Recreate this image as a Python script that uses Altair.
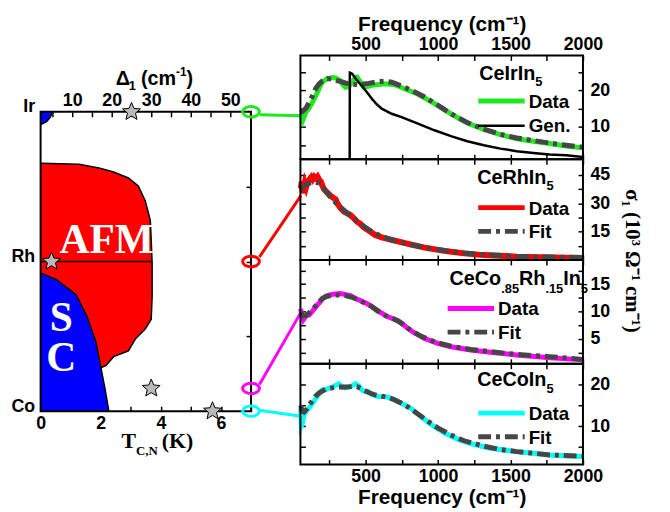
import math
import altair as alt
import pandas as pd

# ---------------- data ----------------
# Left panel: phase diagram; composition axis: Co = 0, Rh = 0.5, Ir = 1
afm_y = [0.828, 0.825, 0.812, 0.799, 0.779, 0.752, 0.703, 0.637, 0.571, 0.495,
         0.383, 0.307, 0.274, 0.241, 0.201, 0.182, 0.152, 0.145]
afm_T = [0.0, 1.28, 1.94, 2.43, 2.92, 3.25, 3.48, 3.65, 3.68, 3.71,
         3.71, 3.68, 3.48, 3.15, 2.92, 2.43, 2.17, 2.0]
sc_y = [0.462, 0.439, 0.389, 0.317, 0.231, 0.149, 0.076, 0.0]
sc_T = [0.0, 0.53, 1.18, 1.54, 1.84, 2.0, 2.14, 2.27]
irsc_y = [1.0, 0.983, 0.967, 0.957]
irsc_T = [0.39, 0.33, 0.2, 0.0]
rh_T_end = 3.71
compounds = ["CeIrIn5", "CeRhIn5", "CeCo.85Rh.15In5", "CeCoIn5"]
comp_y = [1.0, 0.5, 0.076, 0.0]
comp_colors = ["#21e821", "#ff0000", "#ff00ff", "#00ffff"]
star_delta = [25.0, 4.75, 30.0, 45.5]
circle_T = 7.0
link_T = [7.28, 8.66]
link_y_end = [0.987, 0.72, 0.33, -0.017]
link_y_start = [0.99, 0.515, 0.089, 0.003]

# Right panels: sigma_1 (10^3 Ohm^-1 cm^-1) vs frequency (cm^-1)
ir_f = [52, 66, 89, 111, 134, 157, 180, 202, 236, 270, 293, 327, 345, 361, 384, 407, 430, 441,
        464, 486, 520, 543, 634, 702, 793, 861, 975, 1089, 1202, 1316, 1430, 1543, 1657, 1770, 1884, 1998]
ir_v = [13.6, 11.8, 14.1, 15.2, 16.8, 18.6, 20.6, 22.3, 23.2, 23.5, 23.4, 22.6, 21.4, 20.8, 21.0, 22.3, 23.5, 23.6,
        22.3, 20.9, 21.1, 21.4, 21.8, 21.5, 20.0, 19.0, 16.4, 13.6, 11.1, 9.3, 7.9, 6.8, 6.1, 5.5, 4.8, 4.3]
ir_fit_f = [52, 66, 89, 111, 134, 157, 180, 202, 236, 270, 316, 361, 407, 452, 520, 589, 634, 680, 748, 816,
            907, 1000, 1089, 1202, 1316, 1430, 1543, 1657, 1770, 1884, 1998]
ir_fit_v = [13.9, 14.3, 15.2, 16.8, 18.6, 20.6, 21.8, 22.6, 23.2, 23.0, 22.5, 22.0, 21.7, 21.5, 21.9, 22.4, 22.5,
            22.2, 21.2, 20.0, 18.2, 15.9, 13.6, 11.2, 9.4, 8.0, 7.0, 6.3, 5.6, 5.0, 4.5]
gen_f = [390, 391, 407, 441, 475, 509, 543, 577, 611, 680, 748, 861, 975, 1089, 1202, 1316, 1430, 1543,
         1657, 1770, 1884, 1998]
gen_v = [1.2, 24.8, 24.5, 22.7, 21.2, 19.5, 17.7, 16.2, 15.0, 13.6, 12.7, 10.9, 9.1, 7.5, 6.1, 5.0, 4.1, 3.4,
         2.9, 2.5, 2.3, 1.8]

rh_f = [52, 60, 66, 80, 89, 100, 111, 125, 134, 145, 157, 168, 180, 191, 202, 214, 236, 259, 282, 293, 304,
        327, 350, 373, 395, 418, 441, 464, 486, 509, 532, 566, 611, 680, 793, 907, 1043, 1180, 1316, 1543, 1770, 1998]
rh_v = [37.9, 41.5, 35.3, 40.6, 38.5, 41.5, 42.4, 43.8, 42.7, 44.1, 43.2, 44.1, 42.4, 41.5, 39.2, 37.4, 35.6,
        33.9, 32.6, 32.1, 30.0, 27.4, 25.6, 24.7, 23.8, 22.1, 20.3, 19.1, 17.3, 16.2, 15.0, 13.2, 12.0, 10.6,
        8.5, 6.5, 4.8, 3.5, 2.6, 1.8, 1.4, 1.1]
rh_fit_f = [52, 66, 89, 111, 134, 157, 180, 202, 225, 259, 293, 327, 361, 407, 452, 498, 543, 611, 702, 816,
            930, 1043, 1180, 1316, 1543, 1770, 1998]
rh_fit_v = [37.1, 38.5, 39.7, 40.6, 40.9, 41.1, 40.6, 38.5, 36.2, 33.2, 30.4, 27.9, 25.6, 22.6, 19.8, 17.3,
            15.0, 12.4, 10.1, 8.0, 6.4, 5.0, 3.7, 2.8, 2.0, 1.6, 1.4]

mix_f = [52, 60, 70, 89, 111, 134, 157, 180, 202, 225, 259, 293, 327, 361, 395, 430, 475, 520, 566, 611, 657,
         702, 748, 793, 838, 907, 998, 1089, 1225, 1361, 1543, 1770, 1998]
mix_v = [10.5, 9.2, 8.5, 9.2, 9.4, 10.1, 10.9, 11.6, 12.3, 12.8, 13.1, 13.2, 13.3, 13.1, 12.9, 12.4, 11.9,
         11.3, 10.5, 9.7, 9.0, 8.6, 7.9, 6.9, 6.1, 5.1, 4.2, 3.6, 3.0, 2.6, 2.1, 1.6, 1.2]
mix_fit_f = [52, 70, 89, 111, 134, 157, 180, 202, 236, 270, 316, 361, 407, 452, 498, 543, 589, 634, 680, 725,
             770, 816, 884, 975, 1089, 1225, 1361, 1543, 1770, 1998]
mix_fit_v = [9.8, 9.2, 9.3, 9.8, 10.4, 11.1, 11.8, 12.4, 12.8, 13.0, 13.0, 12.9, 12.6, 12.1, 11.5, 10.9,
             10.0, 9.3, 8.8, 8.3, 7.4, 6.5, 5.5, 4.5, 3.7, 3.1, 2.7, 2.2, 1.8, 1.3]

co_f = [52, 56, 62, 75, 89, 111, 134, 157, 180, 202, 225, 248, 270, 293, 316, 338, 361, 384, 407, 430, 452,
        475, 498, 520, 543, 589, 634, 680, 725, 770, 816, 861, 907, 952, 998, 1043, 1134, 1225, 1361, 1543, 1770, 1998]
co_v = [14.3, 10.0, 10.4, 12.8, 13.5, 14.5, 15.5, 16.7, 17.9, 18.7, 18.8, 19.1, 19.4, 19.8, 20.2, 19.4, 19.2,
        19.4, 19.7, 20.2, 19.7, 18.7, 18.3, 18.3, 17.6, 17.1, 17.1, 16.7, 15.9, 15.1, 14.2, 12.9, 11.6, 10.4,
        9.4, 8.4, 6.9, 5.8, 4.7, 3.9, 3.1, 2.7]
co_fit_f = [52, 62, 75, 89, 111, 134, 157, 180, 225, 270, 316, 361, 407, 441, 475, 520, 566, 611, 657, 702,
            748, 793, 861, 930, 998, 1089, 1180, 1316, 1430, 1543, 1770, 1998]
co_fit_v = [15.0, 13.7, 13.4, 13.9, 15.1, 16.3, 17.3, 18.0, 18.9, 19.2, 19.4, 19.4, 19.5, 19.5, 18.9, 18.1,
            17.5, 17.2, 16.9, 16.3, 15.5, 14.6, 12.9, 11.2, 9.6, 7.9, 6.5, 5.2, 4.4, 3.9, 3.1, 2.8]

freq_ticks = [250, 500, 750, 1000, 1250, 1500, 1750, 2000]
freq_domain = [50, 2000]

# ---------------- layout / styles ----------------
W, H = 662, 504                      # whole drawing area (page minus 8px margin)
L_X, L_Y = (33, 246), (405, 102)     # left panel pixel ranges
R_X = (296, 582)                     # right panels pixel range
P_TOP = [45, 150, 252, 357]
P_BOT = [150, 252, 357, 459]

FONT = "Liberation Sans"
SERIF = "Liberation Serif"
FIT_GRAY = "#464646"
DASH = [13, 5, 4, 5]
AW = {'C': .722, 'e': .556, 'I': .278, 'r': .389, 'n': .611, 'R': .722, 'h': .611, 'o': .611, '.': .278,
      ' ': .278, '(': .333, ')': .333, 'c': .556, 'm': .889, '-': .333, 'Δ': .667, 'T': .667, ',': .25,
      'N': .722, 'K': .778}
for d in "0123456789":
    AW[d] = .556

one = pd.DataFrame({'k': [0]})


def seg_text(segments, x0, y0, font=FONT, color='black'):
    """segments: (text, fontSize, dy, gap_before)"""
    layers = []
    x = x0
    for seg in segments:
        s, fs, dy = seg[0], seg[1], seg[2]
        gap = seg[3] if len(seg) > 3 else 0
        x += gap
        layers.append(alt.Chart(one).mark_text(text=s, font=font, fontSize=fs, fontWeight='bold',
                                               align='left', baseline='alphabetic', color=color)
                      .encode(x=alt.value(x), y=alt.value(y0 + dy)))
        x += sum(AW.get(ch, .6) for ch in s) * fs
    return layers


def star_path():
    pts = []
    for k in range(10):
        a = math.radians(-90 + 36 * k)
        r = 1.0 if k % 2 == 0 else 0.45
        pts.append(f"{r * math.cos(a):.3f} {r * math.sin(a):.3f}")
    return "M " + " L ".join(pts) + " Z"


STAR = star_path()
ELLIPSE = "M -1 0 A 1 0.62 0 1 0 1 0 A 1 0.62 0 1 0 -1 0 Z"

# ---------------- left panel ----------------
xT = alt.Scale(domain=[0, 7], range=list(L_X), nice=False, zero=False)
yC = alt.Scale(domain=[0, 1], range=list(L_Y), nice=False, zero=False)
xD = alt.Scale(domain=[2, 55.25], range=list(L_X), nice=False, zero=False)

afm_df = pd.DataFrame({'T': afm_T, 'y': afm_y, 'i': range(len(afm_T))})
sc_df = pd.DataFrame({'T': sc_T, 'y': sc_y, 'i': range(len(sc_T))})
irsc_df = pd.DataFrame({'T': irsc_T, 'y': irsc_y, 'i': range(len(irsc_T))})


def region(df, fill, axes=False):
    if axes:
        y = alt.Y('y:Q', scale=yC, axis=alt.Axis(orient='left', offset=-L_X[0], values=[0, 0.5, 1], ticks=False,
                                                  labelPadding=6, labelOffset=-5, title=None,
                                                  labelExpr="datum.value == 1 ? 'Ir' : (datum.value == 0.5 ? 'Rh' : 'Co')"))
        x = alt.X('T:Q', scale=xT, stack=None,
                  axis=alt.Axis(orient='bottom', offset=(L_Y[0] - 5) - H, values=list(range(8)),
                                format='d', title=None, labelPadding=4,
                                labelExpr="datum.value % 2 == 0 ? datum.label : ''"))
    else:
        y = alt.Y('y:Q', scale=yC, axis=None)
        x = alt.X('T:Q', scale=xT, stack=None, axis=None)
    # the fill reaches back to the left frame of the panel
    area = alt.Chart(df).mark_area(orient='horizontal', fill=fill, opacity=1, strokeWidth=0).encode(
        y=y, x=x, x2=alt.value(L_X[0]))
    edge = alt.Chart(df).mark_line(color='black', strokeWidth=1.5).encode(
        y=alt.Y('y:Q', scale=yC, axis=None), x=alt.X('T:Q', scale=xT, axis=None), order='i:Q')
    return [area, edge]


rh_line = alt.Chart(pd.DataFrame({'T0': [0.0], 'T1': [rh_T_end], 'y': [0.5]})).mark_rule(
    color='black', strokeWidth=1.5).encode(
    x=alt.X('T0:Q', scale=xT, axis=None), x2='T1:Q', y=alt.Y('y:Q', scale=yC, axis=None))

left_frame = alt.Chart(pd.DataFrame({'x0': [0], 'x1': [7], 'y0': [0], 'y1': [1]})).mark_rect(
    fillOpacity=0, stroke='black', strokeWidth=2).encode(
    x=alt.X('x0:Q', scale=xT, axis=None), x2='x1:Q', y=alt.Y('y0:Q', scale=yC, axis=None), y2='y1:Q')

LX0, LY0 = L_X[0], L_Y[1]
phase_text = [
    alt.Chart(one).mark_text(text=t, font=SERIF, fontSize=42, fontWeight='bold', color='white',
                             align='center', baseline='alphabetic').encode(x=alt.value(LX0 + dx), y=alt.value(LY0 + dy))
    for t, dx, dy in [('AFM', 67, 143), ('S', 21, 222), ('C', 21, 262)]
]

link_rows = []
for n, c, y0, y1 in zip(compounds, comp_colors, link_y_start, link_y_end):
    link_rows.append({'name': n, 'c': c, 'T': link_T[0], 'y': y0, 'i': 0})
    link_rows.append({'name': n, 'c': c, 'T': link_T[1], 'y': y1, 'i': 1})
links = alt.Chart(pd.DataFrame(link_rows)).mark_line(strokeWidth=3).encode(
    x=alt.X('T:Q', scale=xT, axis=None), y=alt.Y('y:Q', scale=yC, axis=None),
    color=alt.Color('c:N', scale=None), detail='name:N', order='i:Q')

circ_df = pd.DataFrame({'name': compounds, 'c': comp_colors, 'y': comp_y, 'T': [circle_T] * 4})
circles = alt.Chart(circ_df).mark_point(shape=ELLIPSE, size=289, filled=False, strokeWidth=3, opacity=1).encode(
    x=alt.X('T:Q', scale=xT, axis=None), y=alt.Y('y:Q', scale=yC, axis=None),
    color=alt.Color('c:N', scale=None))

star_df = pd.DataFrame({'name': compounds, 'd': star_delta, 'y': comp_y})
stars = alt.Chart(star_df).mark_point(shape=STAR, size=360, filled=True, fill='#b9b9b9', stroke='black',
                                      strokeWidth=1, opacity=1).encode(
    x=alt.X('d:Q', scale=xD, axis=alt.Axis(orient='top', offset=-(L_Y[1] + 5), values=list(range(5, 60, 5)),
                                            format='d', title=None, labelPadding=2,
                                            labelExpr="datum.value % 10 == 0 ? datum.label : ''")),
    y=alt.Y('y:Q', scale=yC, axis=alt.Axis(orient='right', offset=(L_X[1] - 5) - W, values=[0.25, 0.5, 0.75],
                                            labels=False, title=None)))

delta_title = seg_text([("Δ", 20, 0), ("1", 13, 5), ("(cm", 20, 0, 5), ("-1", 12, -9), (")", 20, 0)],
                       LX0 + 76, LY0 - 27)
t_title = seg_text([("T", 22, 0), ("C,N", 13, 7), ("(K)", 22, 0, 4)], LX0 + 82, LY0 + 340, font=SERIF)

left_layers = [*region(afm_df, '#ff0000', axes=True), *region(sc_df, '#0000ff'), *region(irsc_df, '#0000ff'),
               rh_line, left_frame, *phase_text, links, circles, stars, *delta_title, *t_title]


# ---------------- right panels ----------------
def panel(k, f, v, ff, fv, ydom, yticks, ymod, color, label_segs, lab_x0, lab_base, leg_x, second_label,
          extra=(), dw=5, leg_y=(49, 73), txt_base=(56, 80)):
    top, bot = P_TOP[k], P_BOT[k]
    xs = alt.Scale(domain=freq_domain, range=list(R_X), nice=False, zero=False)
    ys = alt.Scale(domain=ydom, range=[bot, top], nice=False, zero=False)
    title = 'Frequency (cm⁻¹)'
    is_top, is_bottom = k == 0, k == 3
    data_layer = alt.Chart(pd.DataFrame({'f': f, 'v': v})).mark_line(color=color, strokeWidth=dw).encode(
        x=alt.X('f:Q', scale=xs, axis=alt.Axis(orient='bottom', offset=(bot - 5) - H, values=freq_ticks,
                                                labels=is_bottom, format='d',
                                                labelExpr="datum.value % 500 == 0 ? datum.label : ''",
                                                title=title if is_bottom else None, labelPadding=3, titlePadding=1)),
        y=alt.Y('v:Q', scale=ys, axis=alt.Axis(orient='right', offset=(R_X[1] - 5) - W, values=yticks, format='d',
                                                title=None, labelPadding=7,
                                                labelExpr=f"datum.value % {ymod} == 0 ? datum.label : ''")))
    fit_layer = alt.Chart(pd.DataFrame({'f': ff, 'v': fv})).mark_line(
        color=FIT_GRAY, strokeWidth=5, strokeDash=DASH).encode(
        x=alt.X('f:Q', scale=xs, axis=alt.Axis(orient='top', offset=-(top + 5), values=freq_ticks, labels=is_top,
                                                format='d', labelExpr="datum.value % 500 == 0 ? datum.label : ''",
                                                title=title if is_top else None, labelPadding=2, titlePadding=1)),
        y=alt.Y('v:Q', scale=ys, axis=alt.Axis(orient='left', offset=-(R_X[0] + 5), values=yticks, labels=False,
                                                title=None)))
    frame = alt.Chart(pd.DataFrame({'x0': [freq_domain[0]], 'x1': [freq_domain[1]], 'y0': [ydom[0]],
                                    'y1': [ydom[1]]})).mark_rect(fillOpacity=0, stroke='black', strokeWidth=2).encode(
        x=alt.X('x0:Q', scale=xs, axis=None), x2='x1:Q', y=alt.Y('y0:Q', scale=ys, axis=None), y2='y1:Q')
    layers = [data_layer, fit_layer]
    for e in extra:
        layers.append(e(xs, ys))
    layers.append(frame)
    X0 = R_X[0]
    layers.append(alt.Chart(one).mark_rule(color=color, strokeWidth=5).encode(
        x=alt.value(X0 + leg_x), x2=alt.value(X0 + leg_x + 47), y=alt.value(top + leg_y[0])))
    if second_label == 'Gen.':
        layers.append(alt.Chart(one).mark_rule(color='black', strokeWidth=2.5).encode(
            x=alt.value(X0 + leg_x), x2=alt.value(X0 + leg_x + 47), y=alt.value(top + leg_y[1])))
    else:
        layers.append(alt.Chart(one).mark_rule(color=FIT_GRAY, strokeWidth=5, strokeDash=DASH).encode(
            x=alt.value(X0 + leg_x), x2=alt.value(X0 + leg_x + 47), y=alt.value(top + leg_y[1])))
    layers += seg_text([("Data", 19, 0)], X0 + leg_x + 51, top + txt_base[0])
    layers += seg_text([(second_label, 19, 0)], X0 + leg_x + 51, top + txt_base[1])
    layers += seg_text(label_segs, X0 + lab_x0, top + lab_base)
    return layers


def gen_layer(xs, ys):
    return alt.Chart(pd.DataFrame({'f': gen_f, 'v': gen_v})).mark_line(color='black', strokeWidth=2.5).encode(
        x=alt.X('f:Q', scale=xs, axis=None), y=alt.Y('v:Q', scale=ys, axis=None))


p1 = panel(0, ir_f, ir_v, ir_fit_f, ir_fit_v, [1.2, 29.5], [5, 10, 15, 20, 25], 10, comp_colors[0],
           [("CeIrIn", 20, 0), ("5", 13, 6)], 181, 25, 180, 'Gen.', extra=(gen_layer,),
           leg_y=(46, 71), txt_base=(53, 77))
p2 = panel(1, rh_f, rh_v, rh_fit_f, rh_fit_v, [0, 53.3], [7.5, 15, 22.5, 30, 37.5, 45], 15, comp_colors[1],
           [("CeRhIn", 20, 0), ("5", 13, 6)], 179, 25, 180, 'Fit', dw=6)
p3 = panel(2, mix_f, mix_v, mix_fit_f, mix_fit_v, [0.5, 19.4], [2.5, 5, 7.5, 10, 12.5, 15, 17.5], 5,
           comp_colors[2],
           [("CeCo", 20, 0), (".85", 13, 8), ("Rh", 20, 0), (".15", 13, 8), ("In", 20, 0), ("5", 13, 8)],
           151, 25, 149, 'Fit')
p4 = panel(3, co_f, co_v, co_fit_f, co_fit_v, [0.8, 25], [5, 10, 15, 20], 10, comp_colors[3],
           [("CeCoIn", 20, 0), ("5", 13, 7)], 179, 23, 180, 'Fit', leg_y=(50, 74), txt_base=(57, 81))

sigma_title = alt.Chart(one).mark_text(text='σ₁ (10³ Ω⁻¹ cm⁻¹)', font=SERIF, fontSize=21, fontWeight='bold',
                                       angle=90, align='center', baseline='middle', color='black').encode(
    x=alt.value(632), y=alt.value(253))

chart = alt.layer(*left_layers, *p1, *p2, *p3, *p4, sigma_title).resolve_scale(
    x='independent', y='independent').resolve_axis(x='independent', y='independent').properties(
    width=W, height=H, autosize=alt.AutoSizeParams(type='none'), padding=0, background='white'
).configure_view(strokeOpacity=0).configure_axis(
    domain=False, grid=False, ticks=True, tickColor='black', tickWidth=1.5, tickSize=5,
    labelFont=FONT, labelFontWeight='bold', labelFontSize=18, labelColor='black',
    titleFont=FONT, titleFontWeight='bold', titleFontSize=21, titleColor='black',
    labelOverlap=False, labelFlush=False)

chart.save("out.html", embed_options={"renderer": "svg", "actions": False})
